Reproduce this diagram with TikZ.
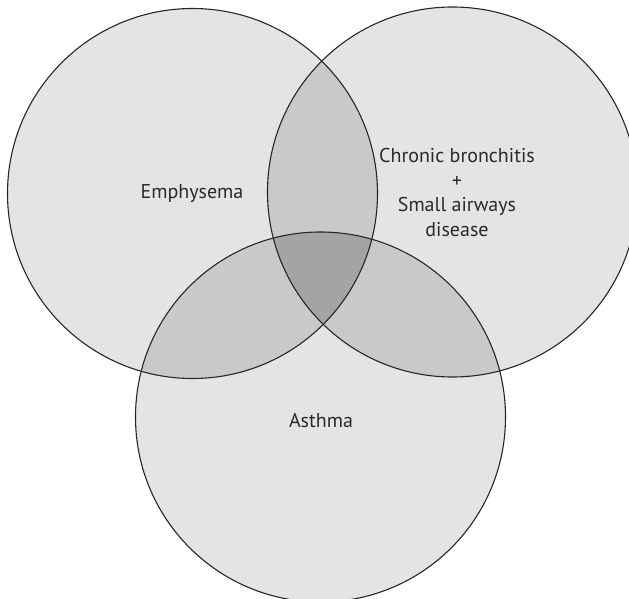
\documentclass[tikz,border=0pt]{standalone}
\usepackage{fontspec}
\setmainfont{PT Sans}
\usepackage{xcolor}
\usepackage{tikz}
\usetikzlibrary{positioning}

\definecolor{vennone}{HTML}{E4E4E4}
\definecolor{venntwo}{HTML}{C9C9C9}
\definecolor{vennthree}{HTML}{A4A4A4}
\definecolor{venntext}{HTML}{2A2A2A}

% the three sets
\newcommand{\emphset}{(192.5,193.5) circle [radius=185pt]}
\newcommand{\bronset}{(452.5,192) circle [radius=185pt]}
\newcommand{\asthset}{(320.5,417) circle [radius=185pt]}

\begin{document}
\begin{tikzpicture}[
    x=1pt, y=-1pt,
    setline/.style={draw=black!85, line width=1.1pt},
    setlabel/.style={text=venntext, align=center, font=\fontsize{20}{24.5}\selectfont},
]
\clip (0,0) rectangle (629,599);

\fill[vennone] \emphset;
\fill[vennone] \bronset;
\fill[vennone] \asthset;

% pairwise overlaps
\begin{scope}
  \clip \emphset;
  \fill[venntwo] \bronset;
  \fill[venntwo] \asthset;
\end{scope}
\begin{scope}
  \clip \bronset;
  \fill[venntwo] \asthset;
\end{scope}
\begin{scope}
  \clip \emphset;
  \clip \bronset;
  \fill[vennthree] \asthset;
\end{scope}

\draw[setline] \emphset;
\draw[setline] \bronset;
\draw[setline] \asthset;

\node[setlabel, anchor=base] (emph) at (192,198) {Emphysema};
\node[setlabel] (bron) at (457,192.5) {Chronic bronchitis\\+\\Small airways\\disease};
\node[setlabel, anchor=base] (asth) at (321,427) {Asthma};

\end{tikzpicture}
\end{document}
